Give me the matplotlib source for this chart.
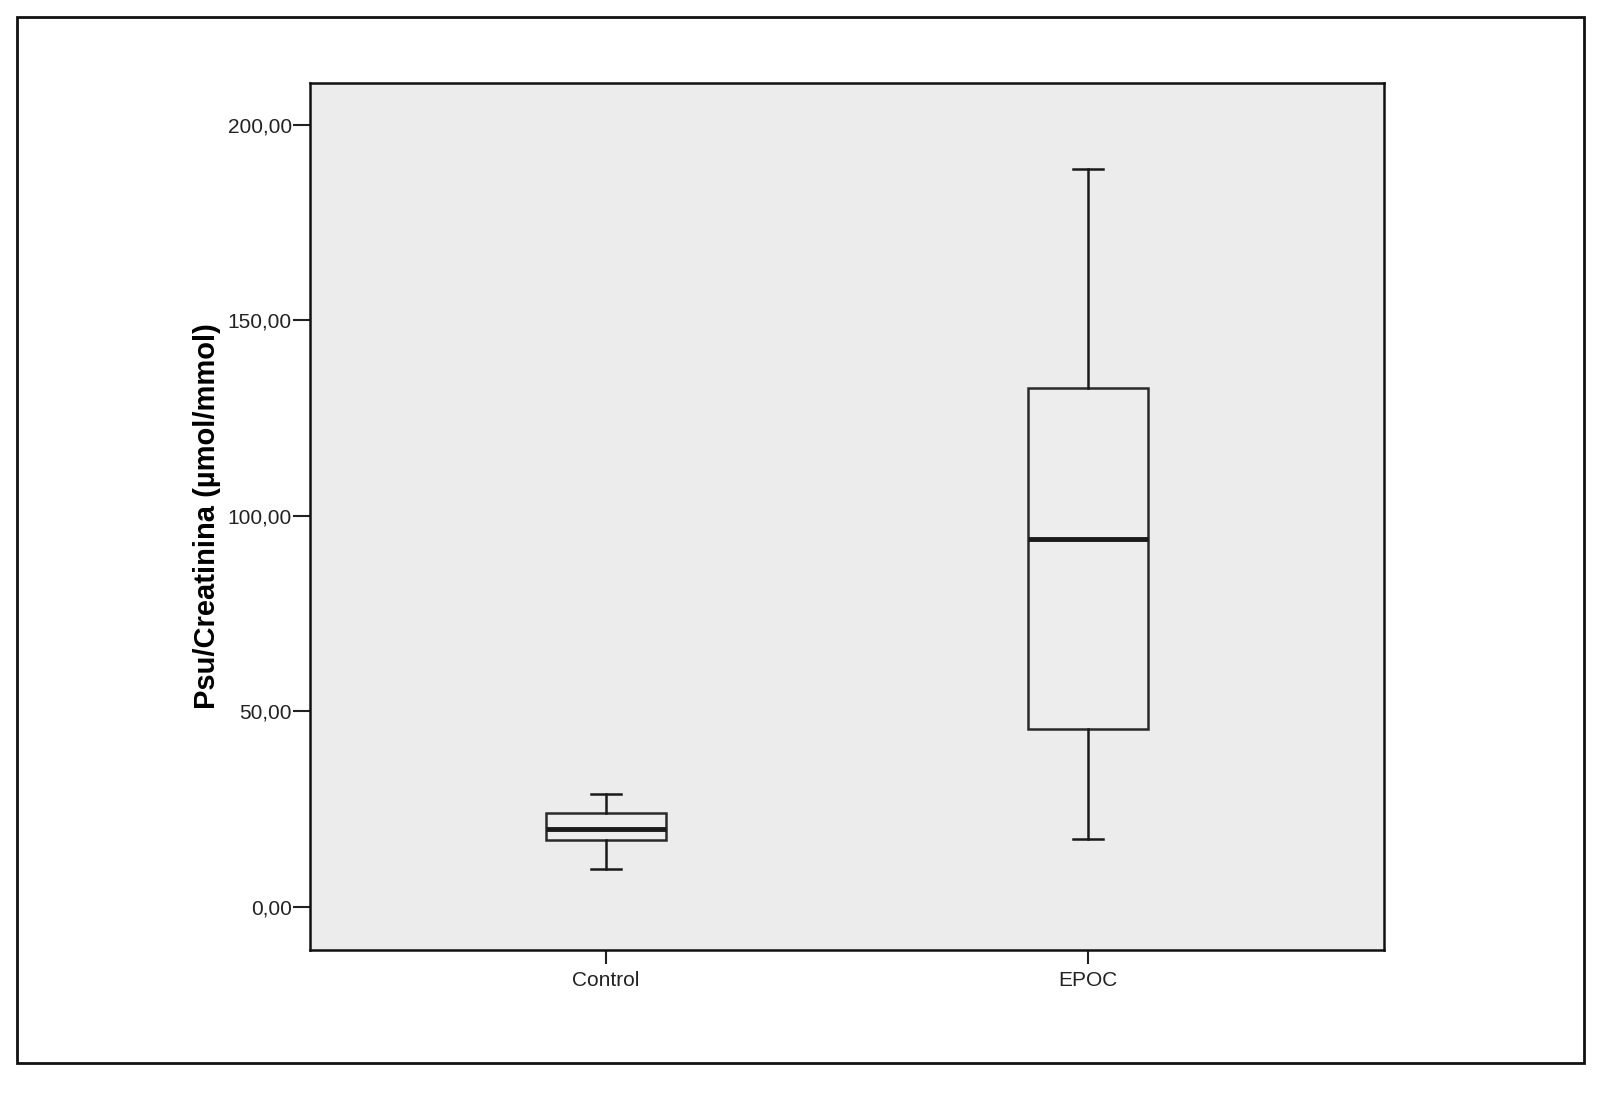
import matplotlib.pyplot as plt
from matplotlib.patches import Rectangle

plt.rcParams['font.family'] = ['Liberation Sans', 'DejaVu Sans']

# values
groups = ['Control', 'EPOC']
whis_lo = [9.7, 17.4]
q1 = [17.1, 45.5]
median = [19.9, 94.2]
q3 = [24.0, 132.7]
whis_hi = [28.8, 188.8]

yticks = [0, 50, 100, 150, 200]
ytick_labels = ['0,00', '50,00', '100,00', '150,00', '200,00']

stats = []
for i in range(len(groups)):
    stats.append({'label': groups[i], 'whislo': whis_lo[i], 'q1': q1[i],
                  'med': median[i], 'q3': q3[i], 'whishi': whis_hi[i], 'fliers': []})

fig = plt.figure(figsize=(16, 10.95), dpi=100)
fig.patch.set_facecolor('white')
ax = fig.add_axes([0.19375, 0.1324, 0.67125, 0.7918])
ax.set_facecolor('#ececec')

ax.bxp(stats, positions=[1, 2], widths=0.25, capwidths=0.062, patch_artist=True,
       boxprops=dict(facecolor='#eeeded', edgecolor='#2a2a2a', linewidth=1.8),
       whiskerprops=dict(color='#1a1a1a', linewidth=1.8),
       capprops=dict(color='#1a1a1a', linewidth=1.8),
       medianprops=dict(color='#1a1a1a', linewidth=3.5))

ax.set_xlim(0.386, 2.614)
ax.set_ylim(-11, 210.7)
ax.set_yticks(yticks)
ax.set_yticklabels(ytick_labels)
ax.set_xticks([1, 2])
ax.set_xticklabels(groups)
ax.tick_params(axis='y', length=12, width=1.5, pad=1, labelsize=15, colors='#222222')
ax.tick_params(axis='x', length=10, width=1.5, pad=5, labelsize=15, colors='#222222')
for s in ax.spines.values():
    s.set_color('#111111')
    s.set_linewidth(1.8)

ax.set_ylabel('Psu/Creatinina (µmol/mmol)', fontsize=21, fontweight='bold', labelpad=5)

# outer frame around the whole chart
fig.patches.append(Rectangle((0.0106, 0.0292), 0.9794, 0.9553, transform=fig.transFigure,
                             fill=False, edgecolor='#111111', linewidth=2))

fig.savefig('out.png', dpi=100)
